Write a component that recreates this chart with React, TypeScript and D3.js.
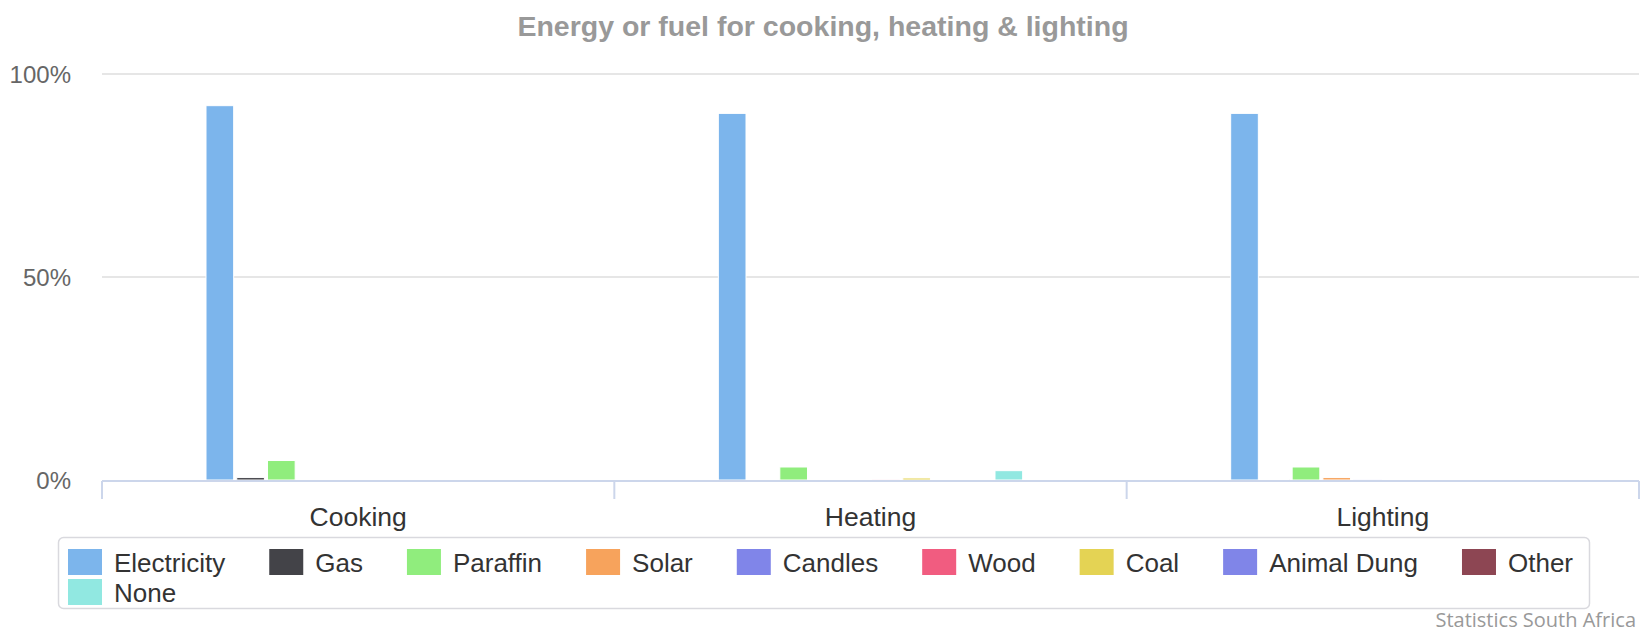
import React, { useEffect, useRef } from "react";
import * as d3 from "d3";

const categories = ["Cooking", "Heating", "Lighting"];
const seriesNames = [
  "Electricity",
  "Gas",
  "Paraffin",
  "Solar",
  "Candles",
  "Wood",
  "Coal",
  "Animal Dung",
  "Other",
  "None",
];
// one value per category, in % (Cooking, Heating, Lighting)
const electricity = [92.2, 90.3, 90.3];
const gas = [0.6, 0.2, 0.2];
const paraffin = [4.8, 3.2, 3.2];
const solar = [0, 0, 0.6];
const candles = [0, 0, 0.1];
const wood = [0, 0.1, 0];
const coal = [0, 0.5, 0];
const animalDung = [0, 0, 0];
const other = [0, 0, 0];
const none = [0, 2.3, 0];
const yTicks = [0, 50, 100];
const colors = [
  "#7cb5ec",
  "#434348",
  "#90ed7d",
  "#f7a35c",
  "#8085e9",
  "#f15c80",
  "#e4d354",
  "#8085e8",
  "#8d4653",
  "#91e8e1",
];

const seriesValues = [electricity, gas, paraffin, solar, candles, wood, coal, animalDung, other, none];

const W = 1642;
const H = 634;
const FONT = "'Liberation Sans', Arial, sans-serif";

const App = () => {
  const svgRef = useRef(null);

  useEffect(() => {
    if (svgRef.current) drawChart();
  }, []);

  const drawChart = () => {
    const svg = d3.select(svgRef.current);
    svg.selectAll("*").remove();

    const left = 102;
    const right = 1639;
    const top = 74;
    const bottom = 480;

    const x0 = d3.scaleBand().domain(categories).range([left, right]);
    const bw = x0.bandwidth();
    const x1 = d3
      .scaleBand()
      .domain(seriesNames)
      .range([bw * 0.2, bw * 0.8])
      .paddingInner(0.1)
      .paddingOuter(0.05);
    const y = d3.scaleLinear().domain([0, 100]).range([bottom, top]);

    // titulo
    svg
      .append("text")
      .attr("x", 823)
      .attr("y", 36)
      .attr("text-anchor", "middle")
      .attr("font-family", FONT)
      .attr("font-weight", "bold")
      .attr("font-size", 28.5)
      .attr("fill", "#999999")
      .text("Energy or fuel for cooking, heating & lighting");

    // grid
    svg
      .append("g")
      .selectAll("line")
      .data(yTicks.filter((t) => t > 0))
      .enter()
      .append("line")
      .attr("x1", left)
      .attr("x2", right)
      .attr("y1", (d) => y(d))
      .attr("y2", (d) => y(d))
      .attr("stroke", "#e6e6e6")
      .attr("stroke-width", 2);

    svg
      .append("g")
      .selectAll("text")
      .data(yTicks)
      .enter()
      .append("text")
      .attr("x", 71)
      .attr("y", (d) => y(d) + 9)
      .attr("text-anchor", "end")
      .attr("font-family", FONT)
      .attr("font-size", 24)
      .attr("fill", "#666666")
      .text((d) => d + "%");

    // barras
    const groups = svg
      .append("g")
      .selectAll("g")
      .data(seriesNames)
      .enter()
      .append("g")
      .attr("fill", (d, i) => colors[i]);

    groups
      .selectAll("rect")
      .data((d, i) => categories.map((c, j) => ({ s: d, c, v: seriesValues[i][j] })))
      .enter()
      .append("rect")
      .filter((d) => d.v > 0)
      .attr("x", (d) => x0(d.c) + x1(d.s))
      .attr("y", (d) => y(d.v))
      .attr("width", x1.bandwidth())
      .attr("height", (d) => bottom - y(d.v))
      .attr("stroke", "#ffffff")
      .attr("stroke-width", 1);

    // eje x
    svg
      .append("line")
      .attr("x1", left)
      .attr("x2", right)
      .attr("y1", bottom + 1)
      .attr("y2", bottom + 1)
      .attr("stroke", "#ccd6eb")
      .attr("stroke-width", 2);

    const tickXs = categories.map((c) => x0(c)).concat([right]);
    svg
      .append("g")
      .selectAll("line")
      .data(tickXs)
      .enter()
      .append("line")
      .attr("x1", (d) => d)
      .attr("x2", (d) => d)
      .attr("y1", bottom + 1)
      .attr("y2", bottom + 19)
      .attr("stroke", "#ccd6eb")
      .attr("stroke-width", 2);

    svg
      .append("g")
      .selectAll("text")
      .data(categories)
      .enter()
      .append("text")
      .attr("x", (d) => x0(d) + bw / 2)
      .attr("y", 526)
      .attr("text-anchor", "middle")
      .attr("font-family", FONT)
      .attr("font-size", 26.5)
      .attr("fill", "#333333")
      .text((d) => d);

    // leyenda
    svg
      .append("rect")
      .attr("x", 58.5)
      .attr("y", 537.5)
      .attr("width", 1531)
      .attr("height", 71)
      .attr("rx", 5)
      .attr("fill", "#ffffff")
      .attr("stroke", "#d9d9de")
      .attr("stroke-width", 1.5);

    const legend = svg.append("g");
    let lx = 68;
    let row = 0;
    const maxX = 1585;
    seriesNames.forEach((name, i) => {
      const item = legend.append("g");
      const label = item
        .append("text")
        .attr("font-family", FONT)
        .attr("font-size", 26)
        .attr("fill", "#333333")
        .text(name);
      const tw = label.node().getComputedTextLength();
      const itemW = 34 + 12 + tw;
      if (lx + itemW > maxX) {
        lx = 68;
        row += 1;
      }
      const ly = 549 + row * 30;
      item
        .append("rect")
        .attr("x", lx)
        .attr("y", ly)
        .attr("width", 34)
        .attr("height", 26)
        .attr("fill", colors[i]);
      label.attr("x", lx + 46).attr("y", ly + 23);
      lx += itemW + 44;
    });

    // credito
    svg
      .append("text")
      .attr("x", 1636)
      .attr("y", 627)
      .attr("text-anchor", "end")
      .attr("font-family", "'Open Sans', 'DejaVu Sans', sans-serif")
      .attr("font-size", 20)
      .attr("fill", "#999999")
      .text("Statistics South Africa");
  };

  return (
    <div style={{ position: "absolute", left: 0, top: 0 }}>
      <svg ref={svgRef} width={W} height={H} style={{ display: "block", background: "#ffffff" }}></svg>
    </div>
  );
};

export default App;
